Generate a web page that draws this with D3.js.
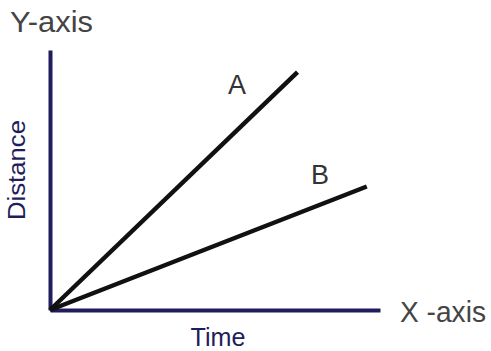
<!DOCTYPE html>
<html>
<head>
<meta charset="utf-8">
<script src="https://cdn.jsdelivr.net/npm/d3@7"></script>
<style>
  body { margin: 0; background: #fff; }
  svg { display: block; font-family: "Liberation Sans", Arial, sans-serif; }
</style>
</head>
<body>
<div class="chart"></div>
<script>
// chart values
const seriesNames = ['A', 'B'];
const seriesA = [{ t: 0, d: 0 }, { t: 7.5, d: 9.15 }];
const seriesB = [{ t: 0, d: 0 }, { t: 9.6, d: 4.75 }];
const axisLabels = ['Time', 'Distance'];
const axisNames = ['X -axis', 'Y-axis'];

const width = 491, height = 351;
const margin = { top: 50, right: 111, bottom: 40, left: 50 };
const navy = '#1f1d5c';

const svg = d3.select('.chart')
              .append('svg')
              .attr('width', width)
              .attr('height', height);

const x = d3.scaleLinear().domain([0, 10]).range([margin.left, width - margin.right]);
const y = d3.scaleLinear().domain([0, 10]).range([height - margin.bottom - 1, margin.top]);

// axes, drawn without ticks
svg.append('g')
   .attr('transform', 'translate(0,' + y(0) + ')')
   .call(d3.axisBottom(x).tickValues([]).tickSizeOuter(0))
   .call(g => g.select('.domain').attr('stroke', navy).attr('stroke-width', 4));

svg.append('g')
   .attr('transform', 'translate(' + x(0) + ',0)')
   .call(d3.axisLeft(y).tickValues([]).tickSizeOuter(0))
   .call(g => g.select('.domain').attr('stroke', navy).attr('stroke-width', 4));

// the two lines
const line = d3.line().x(d => x(d.t)).y(d => y(d.d));
[seriesA, seriesB].forEach(function(s) {
  svg.append('path')
     .datum(s)
     .attr('d', line)
     .attr('fill', 'none')
     .attr('stroke', '#111')
     .attr('stroke-width', 4.5)
     .attr('stroke-linecap', 'butt');
});

// series labels
svg.append('text').attr('x', x(5.67)).attr('y', y(8.3))
   .attr('text-anchor', 'middle').attr('font-size', 27).attr('fill', '#333')
   .text(seriesNames[0]);
svg.append('text').attr('x', x(8.18)).attr('y', y(4.85))
   .attr('text-anchor', 'middle').attr('font-size', 27).attr('fill', '#333')
   .text(seriesNames[1]);

// axis titles
svg.append('text').attr('x', 218).attr('y', 346)
   .attr('text-anchor', 'middle').attr('font-size', 25).attr('fill', navy)
   .attr('textLength', 55).attr('lengthAdjust', 'spacingAndGlyphs')
   .text(axisLabels[0]);
svg.append('text')
   .attr('transform', 'translate(25,170) rotate(-90)')
   .attr('text-anchor', 'middle').attr('font-size', 23).attr('fill', navy)
   .attr('textLength', 100).attr('lengthAdjust', 'spacingAndGlyphs')
   .text(axisLabels[1]);

// axis names
svg.append('text').attr('x', 400).attr('y', 322)
   .attr('font-size', 30).attr('fill', '#444')
   .attr('textLength', 86).attr('lengthAdjust', 'spacingAndGlyphs')
   .text(axisNames[0]);
svg.append('text').attr('x', 10).attr('y', 32)
   .attr('font-size', 30).attr('fill', '#444')
   .attr('textLength', 83).attr('lengthAdjust', 'spacingAndGlyphs')
   .text(axisNames[1]);
</script>
</body>
</html>
